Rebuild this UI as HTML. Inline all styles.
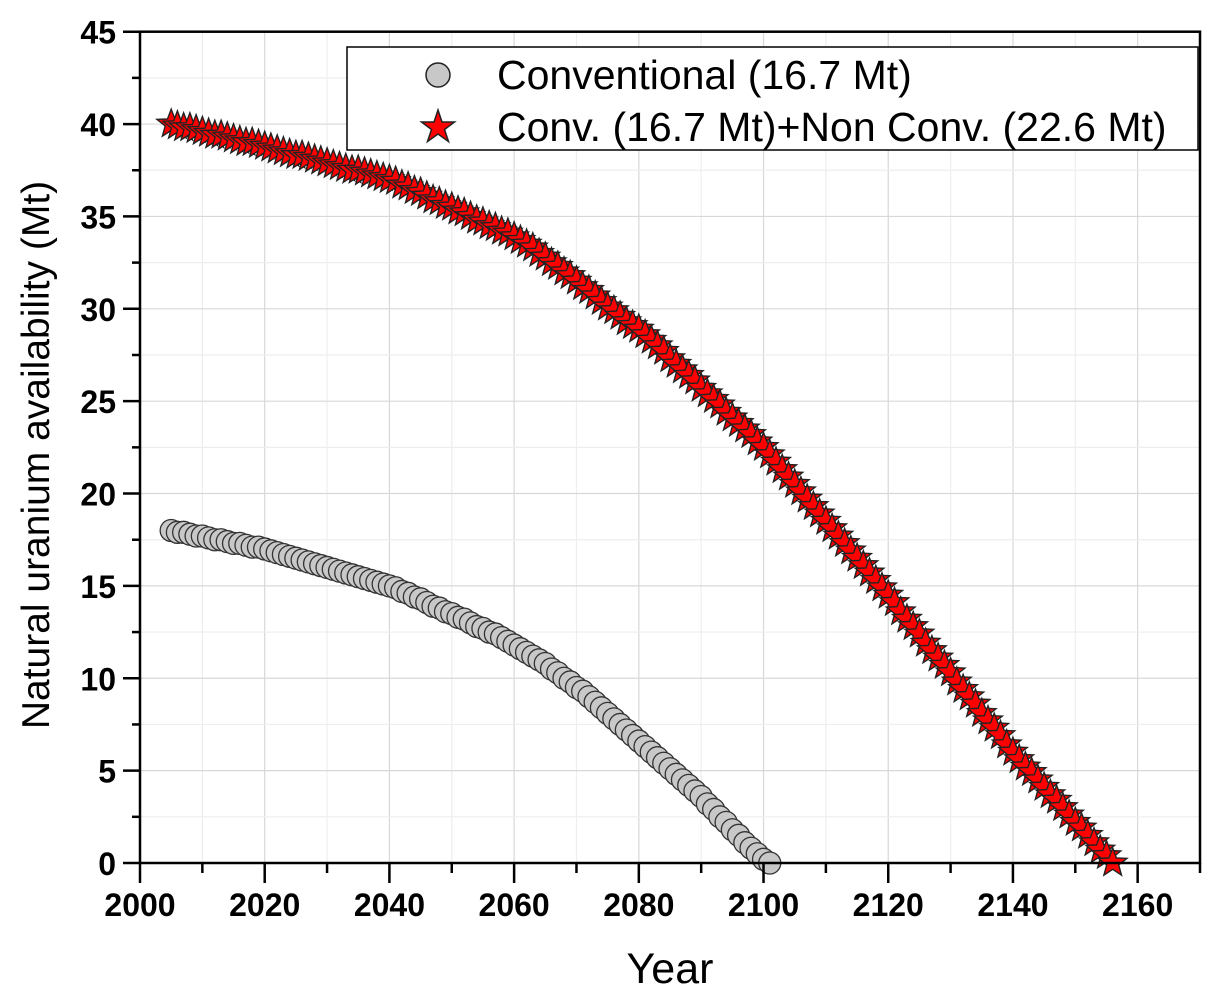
<!DOCTYPE html>
<html><head><meta charset="utf-8"><style>
body{margin:0;background:#fff}
svg text{font-family:"Liberation Sans",Arial,sans-serif}
</style></head><body>
<svg id="chart" width="1214" height="1000" xmlns="http://www.w3.org/2000/svg">
<g id="grid"></g>
<g id="series"></g>
<g id="axes"></g>
<text x="670" y="983" font-size="43" text-anchor="middle">Year</text>
<text transform="translate(49,455) rotate(-90)" font-size="39" text-anchor="middle">Natural uranium availability (Mt)</text>
<g>
<rect x="347" y="47" width="851" height="103" fill="#fff" stroke="#000" stroke-width="1.5"/>
<circle cx="438" cy="75" r="12" fill="#c8c8c8" stroke="#222" stroke-width="1.5"/>
<text x="497" y="89" font-size="41">Conventional (16.7 Mt)</text>
<path d="M438,110 L442,122 L454.5,122 L444.5,129.5 L448.5,141.5 L438,134 L427.5,141.5 L431.5,129.5 L421.5,122 L434,122 Z" fill="#f00" stroke="#222" stroke-width="1.5"/>
<text x="497" y="141" font-size="41">Conv. (16.7 Mt)+Non Conv. (22.6 Mt)</text>
</g>
</svg>
<script>
const convStartYear = 2005;
const convValues = [18.0,17.9,17.9,17.8,17.7,17.7,17.6,17.5,17.5,17.4,17.3,17.3,17.2,17.1,17.1,17.0,
16.9,16.8,16.7,16.6,16.5,16.4,16.3,16.2,16.1,16.0,15.9,15.8,15.7,15.6,15.5,15.4,15.3,15.2,15.1,15.0,
14.9,14.7,14.6,14.4,14.3,14.1,13.9,13.8,13.6,13.5,13.3,13.2,13.0,12.8,12.7,12.5,12.4,12.2,12.0,11.8,
11.6,11.4,11.2,11.0,10.8,10.5,10.3,10.0,9.8,9.5,9.3,9.0,8.7,8.4,8.1,
7.8,7.5,7.2,6.9,6.6,6.3,6.0,5.7,5.4,5.1,4.8,4.5,4.2,3.9,3.6,3.2,2.9,2.5,2.2,1.8,1.5,1.1,0.8,0.5,0.2,0.0];
const totalStartYear = 2005;
const totalValues = [40.0,39.9,39.8,39.8,39.7,39.6,39.5,39.4,39.4,39.3,39.2,39.1,39.0,39.0,38.9,38.8,
38.7,38.6,38.5,38.4,38.3,38.3,38.2,38.1,38.0,37.9,37.8,37.7,37.6,37.5,37.5,37.4,37.3,37.2,37.1,37.0,
36.9,36.7,36.6,36.4,36.3,36.1,35.9,35.8,35.6,35.5,35.3,35.2,35.0,34.8,34.7,34.5,34.4,34.2,34.1,33.9,
33.7,33.5,33.3,33.0,32.8,32.5,32.3,32.0,31.8,31.5,31.2,31.0,30.7,30.4,30.1,29.9,29.6,29.3,29.1,28.9,
28.6,28.3,28.0,27.7,27.3,27.0,26.7,26.4,26.1,25.7,25.4,25.1,24.8,24.4,24.1,23.8,23.5,23.2,22.8,22.5,
22.1,21.7,21.3,20.9,20.5,20.1,19.7,19.3,18.9,18.5,18.1,17.7,17.3,16.9,16.5,16.1,15.7,15.3,14.9,14.5,
14.1,13.6,13.2,12.8,12.4,11.9,11.5,11.1,10.7,10.3,9.8,9.4,9.0,8.6,8.1,7.7,7.3,6.9,6.4,6.0,
5.6,5.2,4.9,4.5,4.1,3.7,3.4,3.0,2.6,2.2,1.9,1.5,1.1,0.7,0.4,0.0];
const xTicks = [2000,2020,2040,2060,2080,2100,2120,2140,2160];
const yTicks = [0,5,10,15,20,25,30,35,40,45];

const X0=140,X1=1200,Y0=863,Y1=31.7;
const xs = v => X0 + (v-2000)/(2170-2000)*(X1-X0);
const ys = v => Y0 - v/45*(Y0-Y1);
const NS="http://www.w3.org/2000/svg";
function mk(tag,attrs,parent){const e=document.createElementNS(NS,tag);for(const k in attrs)e.setAttribute(k,attrs[k]);parent.appendChild(e);return e;}
const grid=document.getElementById('grid'),axes=document.getElementById('axes'),series=document.getElementById('series');
for(let v=2010;v<2170;v+=10){const l=mk('line',{x1:xs(v),x2:xs(v),y1:Y1,y2:Y0,stroke:v%20?'#eee':'#d8d8d8','stroke-width':1.2},grid);

}
for(let v=2.5;v<45;v+=2.5){const l=mk('line',{x1:X0,x2:X1,y1:ys(v),y2:ys(v),stroke:(v%5)?'#eee':'#d8d8d8','stroke-width':1.2},grid);

}
convValues.forEach((v,i)=>{const c=mk('circle',{cx:xs(convStartYear+i),cy:ys(v),r:11,fill:'#c8c8c8',stroke:'#333','stroke-width':1.3},series);

});
function star(cx,cy,R){const r=R*0.42;let d='';for(let k=0;k<10;k++){const a=-Math.PI/2+k*Math.PI/5;const rr=k%2?r:R;d+=(k?'L':'M')+(cx+rr*Math.cos(a)).toFixed(1)+','+(cy+rr*Math.sin(a)).toFixed(1);}return d+'Z';}
totalValues.forEach((v,i)=>{const p=mk('path',{d:star(xs(totalStartYear+i),ys(v),15),fill:'#f00',stroke:'#222','stroke-width':1.4},series);

});
const fr=mk('rect',{x:X0,y:Y1,width:X1-X0,height:Y0-Y1,fill:'none',stroke:'#000','stroke-width':2.5},axes);


for(let v=2000;v<=2170;v+=10){const major=v%20===0;const t=mk('line',{x1:xs(v),x2:xs(v),y1:Y0,y2:Y0+(major?20:10),stroke:'#000','stroke-width':2.5},axes);

}
xTicks.forEach(v=>{const t=mk('text',{x:xs(v),y:Y0+53,'font-size':32,'font-weight':'bold','text-anchor':'middle'},axes);t.textContent=v;

});
for(let v=0;v<=45;v+=2.5){const major=v%5===0;const t=mk('line',{x1:X0-(major?17:8),x2:X0,y1:ys(v),y2:ys(v),stroke:'#000','stroke-width':2.5},axes);

}
yTicks.forEach(v=>{const t=mk('text',{x:X0-24,y:ys(v)+12,'font-size':32,'font-weight':'bold','text-anchor':'end'},axes);t.textContent=v;

});
</script>
</body></html>
